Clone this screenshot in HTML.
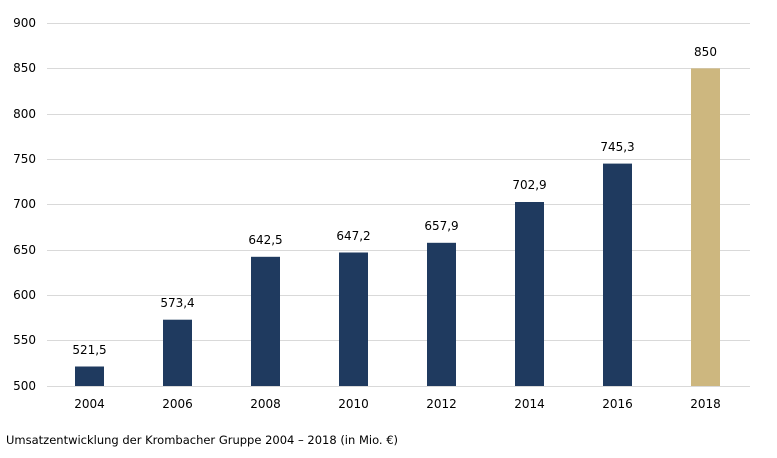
<!DOCTYPE html>
<html><head><meta charset="utf-8"><style>body{margin:0;background:#fff}svg{display:block}text{font-family:"DejaVu Sans","Liberation Sans",sans-serif;font-size:12px;fill:#000}</style></head><body>
<svg width="777" height="458" viewBox="0 0 777 458">
<g stroke="#d9d9d9" stroke-width="1">
<line x1="47" x2="750" y1="23.5" y2="23.5"/><line x1="47" x2="750" y1="68.5" y2="68.5"/><line x1="47" x2="750" y1="114.5" y2="114.5"/><line x1="47" x2="750" y1="159.5" y2="159.5"/><line x1="47" x2="750" y1="204.5" y2="204.5"/><line x1="47" x2="750" y1="250.5" y2="250.5"/><line x1="47" x2="750" y1="295.5" y2="295.5"/><line x1="47" x2="750" y1="340.5" y2="340.5"/><line x1="47" x2="750" y1="386.5" y2="386.5"/>
</g>
<g text-anchor="end">
<text x="36" y="27">900</text><text x="36" y="72">850</text><text x="36" y="118">800</text><text x="36" y="163">750</text><text x="36" y="208">700</text><text x="36" y="254">650</text><text x="36" y="299">600</text><text x="36" y="344">550</text><text x="36" y="390">500</text>
</g>
<g fill="#1f3a5f">
<rect x="75" y="366.5" width="29" height="19.5"/>
<rect x="163" y="319.7" width="29" height="66.3"/>
<rect x="251" y="256.8" width="29" height="129.2"/>
<rect x="339" y="252.5" width="29" height="133.5"/>
<rect x="427" y="242.8" width="29" height="143.2"/>
<rect x="515" y="202" width="29" height="184"/>
<rect x="603" y="163.6" width="29" height="222.4"/>
</g>
<rect x="691" y="68.4" width="29" height="317.6" fill="#cdb77f"/>
<g text-anchor="middle">
<text x="89.5" y="354">521,5</text><text x="177.5" y="307">573,4</text><text x="265.5" y="244">642,5</text><text x="353.5" y="240">647,2</text><text x="441.5" y="230">657,9</text><text x="529.5" y="189">702,9</text><text x="617.5" y="151">745,3</text><text x="705.5" y="56">850</text>
<text x="89.5" y="408">2004</text><text x="177.5" y="408">2006</text><text x="265.5" y="408">2008</text><text x="353.5" y="408">2010</text><text x="441.5" y="408">2012</text><text x="529.5" y="408">2014</text><text x="617.5" y="408">2016</text><text x="705.5" y="408">2018</text>
</g>
<text x="6" y="444" style="font-size:11.5px">Umsatzentwicklung der Krombacher Gruppe 2004 – 2018 (in Mio. €)</text>
</svg>
</body></html>
